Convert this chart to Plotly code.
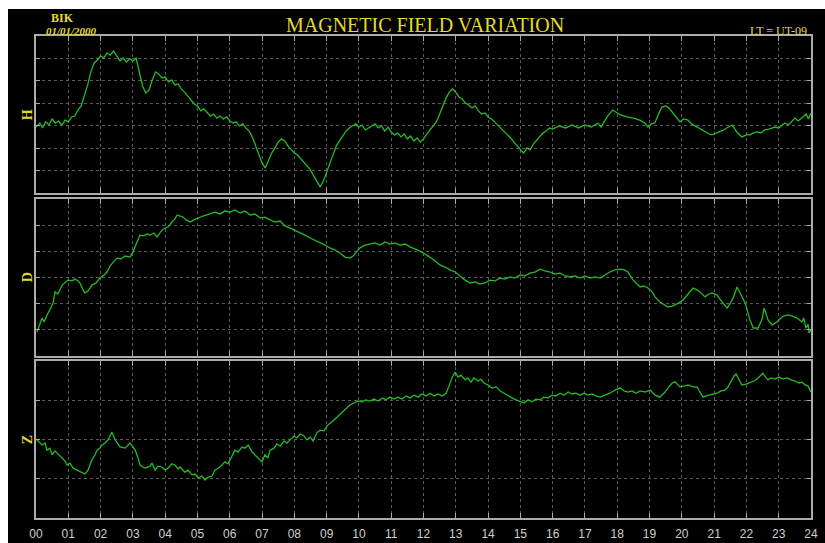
import plotly.graph_objects as go
from plotly.subplots import make_subplots

# ---- H component (nT, relative) ----
h_time = [0.00, 0.12, 0.2, 0.3, 0.4, 0.5, 0.6, 0.7, 0.8, 0.9, 1.0, 1.1, 1.2, 1.3, 1.4, 1.5, 1.6, 1.7, 1.8, 1.9,
          2.0, 2.1, 2.2, 2.3, 2.4, 2.5, 2.6, 2.7, 2.8, 2.9, 3.0, 3.1, 3.2, 3.3, 3.4, 3.5, 3.6, 3.7, 3.8, 3.9,
          4.0, 4.1, 4.2, 4.3, 4.4, 4.5, 4.6, 4.7, 4.8, 4.9, 5.0, 5.1, 5.2, 5.3, 5.4, 5.5, 5.6, 5.7, 5.8, 5.9,
          6.0, 6.1, 6.2, 6.3, 6.4, 6.5, 6.6, 6.7, 6.8, 6.9, 7.0, 7.1, 7.2, 7.3, 7.4, 7.5, 7.6, 7.7, 7.8, 7.9,
          8.0, 8.1, 8.2, 8.3, 8.4, 8.5, 8.6, 8.7, 8.8, 8.9, 9.0, 9.1, 9.2, 9.3, 9.4, 9.5, 9.6, 9.7, 9.8, 9.9,
          10.0, 10.1, 10.2, 10.3, 10.4, 10.5, 10.6, 10.7, 10.8, 10.9, 11.0, 11.1, 11.2, 11.3, 11.4, 11.5, 11.6,
          11.7, 11.8, 11.9, 12.0, 12.1, 12.2, 12.3, 12.4, 12.5, 12.6, 12.7, 12.8, 12.9, 13.0, 13.1, 13.2, 13.3,
          13.4, 13.5, 13.6, 13.7, 13.8, 13.9, 14.0, 14.1, 14.2, 14.3, 14.4, 14.5, 14.6, 14.7, 14.8, 14.9, 15.0,
          15.1, 15.2, 15.3, 15.4, 15.5, 15.6, 15.7, 15.8, 15.9, 16.0, 16.2, 16.4, 16.6, 16.8, 17.0, 17.2, 17.4,
          17.5, 17.6, 17.7, 17.86, 18.0, 18.1, 18.3, 18.5, 18.7, 18.85, 18.95, 19.05, 19.16, 19.25, 19.38, 19.5,
          19.6, 19.7, 19.8, 19.94, 20.05, 20.19, 20.3, 20.46, 20.6, 20.71, 20.85, 20.93, 21.05, 21.18, 21.3,
          21.39, 21.55, 21.62, 21.70, 21.86, 22.0, 22.11, 22.2, 22.32, 22.45, 22.57, 22.7, 22.88, 23.0, 23.19,
          23.3, 23.5, 23.6, 23.75, 23.85, 23.92, 24.0]
h_vals = [-5.6, -3.8, -6.0, -3.3, -4.7, -2.0, -3.8, -2.9, -4.7, -2.5, -3.3, -1.1, -0.7, 2.0, 3.8, 8.3, 13.2, 19.0, 23.0, 24.3,
          26.1, 25.2, 27.4, 26.5, 28.3, 26.1, 23.9, 25.2, 23.4, 24.8, 23.9, 25.2, 19.0, 12.7, 9.6, 10.9, 15.4, 19.0, 18.1, 16.3,
          16.7, 14.5, 15.4, 13.2, 13.6, 11.4, 10.0, 8.3, 6.5, 4.7, 3.8, 1.6, 2.5, 0.7, -0.7, 0.2, -1.6, -0.7, -2.0, -1.1,
          -2.9, -3.8, -3.3, -5.1, -4.2, -6.0, -7.4, -10.0, -13.6, -17.2, -21.6, -23.9, -20.3, -17.2, -14.9, -12.3, -10.9, -11.8, -14.0, -15.4,
          -17.2, -18.1, -19.8, -21.2, -23.0, -24.7, -27.4, -30.1, -32.3, -29.7, -25.6, -21.2, -17.2, -14.0, -11.8, -9.6, -7.4, -6.0, -5.1, -4.2,
          -5.6, -4.7, -6.9, -6.0, -5.1, -4.2, -6.0, -5.1, -7.4, -5.6, -7.8, -9.1, -8.3, -10.0, -8.7, -10.9, -9.6,
          -11.8, -10.5, -12.3, -10.9, -8.7, -6.9, -5.1, -3.3, 0.2, 3.8, 7.4, 10.0, 11.4, 10.0, 7.8, 6.9, 5.1,
          4.2, 2.9, 3.8, 1.6, 0.2, 0.7, -1.1, -2.0, -3.3, -4.7, -6.0, -7.8, -9.1, -10.5, -12.3, -14.0, -15.8,
          -17.2, -14.9, -15.8, -13.2, -11.4, -10.0, -8.3, -7.4, -6.0, -6.5, -5.1, -6.0, -4.7, -6.0, -4.7, -5.6, -3.8,
          -5.6, -2.9, -0.7, 2.0, 0.7, -0.2, -1.1, -1.6, -2.5, -3.8, -5.6, -4.2, -3.8, -0.7, 3.3, 3.8,
          2.9, 1.1, -0.7, -3.3, -2.0, -2.5, -4.2, -5.6, -6.5, -7.8, -8.7, -9.1, -8.3, -7.8, -6.9,
          -6.0, -4.7, -6.0, -7.8, -10.0, -9.1, -9.1, -8.3, -7.8, -8.3, -6.9, -6.5, -5.6, -6.0, -3.8,
          -4.7, -1.6, -2.9, -1.1, 0.2, -2.0, 0.7]

# ---- D component (relative) ----
d_time = [0.03, 0.19, 0.25, 0.34, 0.43, 0.53, 0.59, 0.68, 0.81, 0.90, 0.99, 1.11, 1.21, 1.30, 1.36, 1.46, 1.52, 1.61,
          1.73, 1.86, 1.98, 2.11, 2.20, 2.29, 2.38, 2.48, 2.54, 2.63, 2.76, 2.91, 3.00, 3.07, 3.16, 3.22, 3.34, 3.44,
          3.53, 3.65, 3.75, 3.84, 3.90, 4.00, 4.09, 4.21, 4.30, 4.37, 4.46, 4.55, 4.65, 4.77, 4.89, 5.02, 5.17, 5.39,
          5.54, 5.70, 5.85, 6.01, 6.16, 6.32, 6.47, 6.63, 6.78, 6.94, 7.09, 7.25, 7.40, 7.56, 7.71, 7.87, 8.02, 8.18,
          8.33, 8.49, 8.64, 8.80, 8.95, 9.10, 9.26, 9.41, 9.57, 9.72, 9.82, 9.94, 10.03, 10.19, 10.34, 10.50, 10.65,
          10.81, 10.96, 11.12, 11.27, 11.43, 11.58, 11.74, 11.89, 12.05, 12.20, 12.36, 12.51, 12.67, 12.82, 12.98,
          13.13, 13.29, 13.44, 13.60, 13.75, 13.91, 14.06, 14.22, 14.37, 14.52, 14.68, 14.83, 14.99, 15.14, 15.30,
          15.45, 15.61, 15.76, 15.92, 16.07, 16.23, 16.38, 16.54, 16.69, 16.85, 17.00, 17.16, 17.31, 17.47, 17.62,
          17.77, 17.93, 18.09, 18.21, 18.33, 18.49, 18.61, 18.71, 18.83, 18.95, 19.08, 19.17, 19.32, 19.45, 19.57,
          19.70, 19.79, 19.91, 20.04, 20.19, 20.35, 20.47, 20.56, 20.72, 20.84, 20.94, 21.09, 21.25, 21.40, 21.49,
          21.59, 21.71, 21.83, 21.96, 22.11, 22.21, 22.36, 22.48, 22.55, 22.67, 22.79, 22.95, 23.10, 23.26, 23.41,
          23.57, 23.72, 23.78, 23.84, 23.91, 23.94, 24.00]
d_vals = [-20.8, -15.5, -17.0, -14.3, -12.4, -9.7, -5.5, -6.3, -2.9, -2.1, -1.0, -1.3, -0.6, -1.3, -2.1, -4.8, -5.9, -5.2,
          -2.9, -2.1, -0.2, 1.0, 2.1, 4.4, 5.9, 7.1, 7.4, 7.1, 8.2, 7.8, 9.7, 11.7, 14.3, 16.2, 15.9, 16.6,
          16.2, 17.0, 15.5, 17.4, 18.1, 18.9, 19.3, 21.2, 22.3, 23.9, 23.5, 23.1, 22.0, 21.2, 22.0, 22.7, 23.5, 24.3,
          25.0, 24.3, 25.4, 25.0, 25.8, 24.6, 25.4, 23.9, 24.3, 22.7, 23.1, 22.0, 21.2, 21.6, 19.7, 18.9, 18.1, 17.0,
          16.2, 15.1, 14.3, 13.2, 12.4, 11.3, 10.5, 9.4, 7.8, 7.4, 8.2, 10.1, 11.3, 12.4, 12.8, 13.2, 12.4,
          13.6, 12.8, 13.2, 12.4, 12.8, 11.7, 10.9, 10.1, 9.0, 7.8, 6.3, 4.8, 4.0, 2.9, 2.1,
          0.6, -1.0, -2.1, -1.7, -2.5, -2.1, -1.0, -1.3, -0.2, -0.6, 0.2, -0.2, 1.0, 0.6, 1.7,
          2.1, 3.2, 2.5, 2.1, 1.3, 1.7, 0.6, 0.2, 0.6, -0.2, 0.6, -0.2, 0.2, -0.2, 1.0,
          2.1, 2.9, 3.2, 2.9, 2.1, -1.0, -2.5, -3.6, -3.2, -4.0, -5.5, -7.4, -9.4, -10.5, -11.3,
          -10.9, -10.5, -9.7, -8.6, -6.3, -4.0, -4.8, -5.5, -7.4, -6.3, -5.9, -6.7, -9.4, -11.7, -10.1,
          -7.8, -3.6, -6.7, -9.7, -16.2, -19.3, -19.3, -16.2, -11.7, -16.2, -18.1, -17.0, -15.1, -14.3, -14.7,
          -15.5, -17.0, -15.5, -19.3, -17.8, -21.2, -20.1]

# ---- Z component (relative) ----
z_time = [0.00, 0.09, 0.19, 0.28, 0.34, 0.43, 0.50, 0.59, 0.65, 0.74, 0.81, 0.90, 0.96, 1.05, 1.15, 1.27, 1.36, 1.52,
          1.61, 1.73, 1.83, 1.89, 1.98, 2.04, 2.14, 2.23, 2.35, 2.45, 2.54, 2.60, 2.76, 2.85, 2.91, 3.00, 3.07, 3.16,
          3.22, 3.31, 3.38, 3.53, 3.59, 3.69, 3.78, 3.90, 4.00, 4.09, 4.21, 4.30, 4.40, 4.46, 4.61, 4.71, 4.83, 4.92,
          5.02, 5.14, 5.23, 5.33, 5.45, 5.54, 5.70, 5.85, 5.95, 6.07, 6.16, 6.26, 6.38, 6.47, 6.57, 6.69, 6.78, 6.88,
          7.00, 7.09, 7.18, 7.25, 7.37, 7.46, 7.56, 7.68, 7.77, 7.87, 7.99, 8.08, 8.18, 8.30, 8.39, 8.49, 8.58, 8.70,
          8.80, 8.92, 9.04, 9.17, 9.26, 9.38, 9.51, 9.63, 9.72, 9.85, 9.97, 10.10, 10.22, 10.34, 10.47, 10.59, 10.72,
          10.84, 10.96, 11.09, 11.21, 11.33, 11.46, 11.58, 11.71, 11.83, 11.95, 12.08, 12.20, 12.33, 12.45, 12.57,
          12.70, 12.79, 12.88, 12.98, 13.07, 13.16, 13.29, 13.38, 13.47, 13.56, 13.69, 13.78, 13.87, 14.00, 14.12,
          14.25, 14.37, 14.49, 14.62, 14.74, 14.87, 14.99, 15.11, 15.24, 15.36, 15.48, 15.61, 15.73, 15.86, 15.98,
          16.10, 16.23, 16.35, 16.48, 16.60, 16.72, 16.85, 16.97, 17.09, 17.22, 17.34, 17.47, 17.62, 17.77, 17.93,
          18.09, 18.21, 18.33, 18.46, 18.58, 18.71, 18.86, 19.02, 19.17, 19.32, 19.48, 19.60, 19.70, 19.79, 19.94,
          20.07, 20.19, 20.35, 20.47, 20.56, 20.66, 20.75, 20.87, 21.00, 21.09, 21.21, 21.34, 21.43, 21.52, 21.62,
          21.68, 21.77, 21.86, 21.99, 22.11, 22.24, 22.33, 22.42, 22.51, 22.61, 22.67, 22.76, 22.89, 23.01, 23.13,
          23.26, 23.38, 23.51, 23.63, 23.72, 23.82, 23.91, 23.97, 24.00]
z_vals = [0.1, -0.6, -1.4, -0.9, -2.7, -2.2, -3.9, -2.9, -3.4, -4.2, -4.7, -5.5, -6.5, -6.0, -7.3, -7.8, -8.3, -8.8,
          -7.8, -5.2, -3.9, -2.7, -2.2, -1.4, -0.9, -0.1, 1.9, -0.1, -1.1, -1.9, -2.2, -1.4, -0.9, -1.9, -2.7, -4.7,
          -6.5, -7.0, -7.3, -6.8, -6.0, -7.8, -6.8, -7.0, -7.8, -7.3, -6.2, -6.5, -7.5, -7.0, -8.3, -7.8, -9.0, -8.8,
          -9.8, -9.3, -10.3, -9.6, -9.3, -7.8, -7.0, -5.7, -6.2, -4.2, -2.7, -3.2, -1.9, -2.2, -1.4, -3.2, -3.9, -4.7,
          -5.7, -3.9, -4.7, -2.7, -2.2, -1.1, -1.7, -0.4, -0.9, -0.1, 0.9, 0.4, 1.4, 0.9, -0.1, 0.6, -0.4, 1.7,
          2.4, 2.2, 3.7, 4.5, 5.2, 6.2, 7.0, 8.0, 8.8, 9.3, 9.8, 9.6, 10.1, 9.8, 10.3, 9.8, 10.6,
          10.1, 10.8, 10.3, 10.8, 10.3, 11.1, 10.6, 11.3, 10.8, 11.6, 11.1, 11.8, 11.1, 11.6, 11.1,
          11.8, 13.6, 15.7, 17.2, 15.9, 16.4, 15.2, 15.7, 14.6, 15.7, 14.9, 15.4, 14.4, 13.9, 13.1,
          13.4, 12.4, 11.8, 11.1, 10.6, 10.1, 9.8, 9.3, 10.1, 9.6, 10.3, 10.1, 10.8, 10.6, 11.3,
          11.1, 11.8, 11.3, 12.1, 11.6, 11.8, 11.3, 11.8, 11.3, 11.6, 11.1, 10.8, 11.3, 11.8, 12.6,
          13.1, 12.4, 12.1, 12.4, 11.8, 12.4, 12.1, 12.6, 11.3, 10.8, 12.1, 13.4, 14.4, 14.7, 13.4,
          13.6, 13.9, 13.4, 13.4, 12.1, 10.8, 11.1, 11.3, 11.6, 11.8, 12.4, 12.6, 13.4, 14.9, 16.2,
          16.7, 15.2, 13.9, 14.1, 14.4, 14.9, 15.4, 16.2, 16.9, 15.7, 15.2, 15.7, 15.4, 15.9, 15.4,
          15.7, 15.2, 14.9, 14.4, 14.6, 13.9, 13.6, 12.6, 12.1]

hour_ticks = list(range(25))
hour_labels = [f"{h:02d}" for h in hour_ticks]

components = ["H", "D", "Z"]
series = [(h_time, h_vals), (d_time, d_vals), (z_time, z_vals)]
y_ranges = [(-35, 35, -25), (-30, 30, 0), (-20, 20, 0)]
domains = [(0.6743, 1.0), (0.3361, 0.6618), (0.0, 0.3257)]

YELLOW = "#e4dc2c"
GREEN = "#26bb26"
FRAME = "#ababab"
GRID = "#5c5c5c"
SERIF = "Liberation Serif, Times New Roman, serif"

fig = make_subplots(rows=3, cols=1, shared_xaxes=False)

for i, (t, v) in enumerate(series):
    fig.add_trace(go.Scatter(x=t, y=v, mode="lines",
                             line=dict(color=GREEN, width=1.3),
                             showlegend=False, hoverinfo="skip"),
                  row=i + 1, col=1)

for i in range(3):
    lo, hi, t0 = y_ranges[i]
    last = (i == 2)
    fig.update_xaxes(row=i + 1, col=1, range=[0, 24], tickmode="array",
                     tickvals=hour_ticks, ticktext=hour_labels, automargin=False,
                     showticklabels=last, ticks="inside", ticklen=5, tickwidth=1,
                     tickcolor=FRAME, showline=True, linecolor=FRAME, linewidth=1.5,
                     mirror="ticks", showgrid=True, gridcolor=GRID, griddash="dot",
                     gridwidth=1, zeroline=False, ticklabelstandoff=4,
                     tickfont=dict(family="Liberation Sans, Arial", size=12, color="#cfcfcf"))
    fig.update_yaxes(row=i + 1, col=1, range=[lo, hi], tick0=t0, dtick=10, automargin=False,
                     showticklabels=False, ticks="inside", ticklen=4, tickwidth=1,
                     tickcolor=FRAME, showline=True, linecolor=FRAME, linewidth=1.5,
                     mirror="ticks", showgrid=True, gridcolor=GRID, griddash="dot",
                     gridwidth=1, zeroline=False, domain=list(domains[i]))

annotations = [
    dict(text="MAGNETIC FIELD VARIATION", x=0.502, y=1.023, xref="paper", yref="paper",
         xanchor="center", yanchor="middle", showarrow=False,
         font=dict(family=SERIF, size=20, color=YELLOW)),
    dict(text="<b>BIK</b>", x=0.0168, y=1.037, xref="paper", yref="paper",
         xanchor="left", yanchor="middle", showarrow=False,
         font=dict(family=SERIF, size=12, color=YELLOW)),
    dict(text="<b><i>01/01/2000</i></b>", x=0.0103, y=1.0095, xref="paper", yref="paper",
         xanchor="left", yanchor="middle", showarrow=False,
         font=dict(family=SERIF, size=11, color=YELLOW)),
    dict(text="LT = UT-09", x=0.9974, y=1.0105, xref="paper", yref="paper",
         xanchor="right", yanchor="middle", showarrow=False,
         font=dict(family=SERIF, size=12, color=YELLOW)),
    dict(text="<b>UT</b>", x=0.503, y=-0.0436, xref="paper", yref="paper",
         xanchor="center", yanchor="top", showarrow=False,
         font=dict(family=SERIF, size=10, color=YELLOW)),
]
for name, (d0, d1) in zip(components, domains):
    annotations.append(dict(text=f"<b>{name}</b>", x=-0.0105, y=(d0 + d1) / 2,
                            xref="paper", yref="paper", xanchor="center", yanchor="middle",
                            textangle=-90, showarrow=False,
                            font=dict(family=SERIF, size=14, color=YELLOW)))

# sheet: white page with a black field inset from the top and left edges
shapes = [
    dict(type="rect", xref="paper", yref="paper",
         x0=(8 - 36) / 775, x1=(825 - 36) / 775, y0=(518 - 543) / 482, y1=(518 - 9) / 482,
         fillcolor="black", line=dict(width=0), layer="below"),
]

fig.update_layout(template="none", width=825, height=543, autosize=False,
                  margin=dict(l=36, r=14, t=36, b=25, pad=0),
                  paper_bgcolor="white", plot_bgcolor="black",
                  annotations=annotations, shapes=shapes, showlegend=False)

fig.write_html("out.html")
